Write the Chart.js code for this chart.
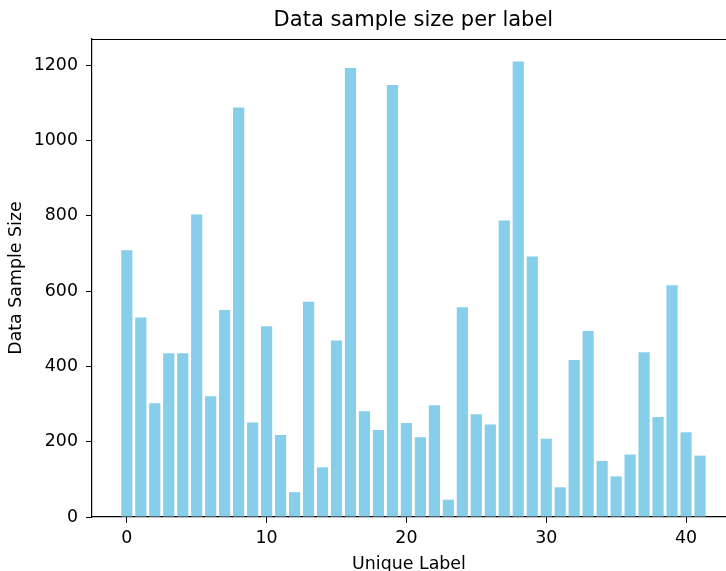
<!DOCTYPE html>
<html>
<head>
<meta charset="utf-8">
<script src="https://cdn.jsdelivr.net/npm/chart.js@4"></script>
<style>
  body { margin: 0; background: #fff; overflow: hidden; }
</style>
</head>
<body>
<canvas id="sample_chart" width="726" height="571"></canvas>
<script>
// Data

const labels = [0, 1, 2, 3, 4, 5, 6, 7, 8, 9, 10, 11, 12, 13, 14, 15, 16, 17, 18, 19, 20,
    21, 22, 23, 24, 25, 26, 27, 28, 29, 30, 31, 32, 33, 34, 35, 36, 37, 38, 39, 40, 41];
const sample_sizes = [709, 530, 302, 435, 435, 804, 321, 550, 1088, 251, 507, 218, 66, 572, 132,
    469, 1193, 281, 231, 1148, 250, 212, 297, 46, 557, 273, 246, 788, 1210, 692, 208,
    79, 417, 494, 149, 108, 166, 438, 266, 616, 225, 163];
const x_ticks = [0, 10, 20, 30, 40];
const y_ticks = [0, 200, 400, 600, 800, 1000, 1200];
const chart_title = 'Data sample size per label';

// Chart

const sample_chart_canvas = document.getElementById('sample_chart');
const font_family = "'DejaVu Sans', sans-serif";
const x_min = -2.49;
const x_max_full = 43.49; // the full axes run past the window edge

// top spine and title centred over the full axes, like matplotlib
const axes_box = {
    id: 'axes_box',
    afterDraw(chart) {
        const ctx = chart.ctx;
        const area = chart.chartArea;
        const right_full = chart.scales.x.getPixelForValue(x_max_full);
        ctx.save();
        ctx.strokeStyle = '#000';
        ctx.lineWidth = 1.2;
        ctx.beginPath();
        ctx.moveTo(area.left, area.top + 0.5);
        ctx.lineTo(area.right, area.top + 0.5);
        ctx.stroke();

        ctx.fillStyle = '#000';
        ctx.font = '21px ' + font_family;
        ctx.textAlign = 'center';
        ctx.textBaseline = 'middle';
        ctx.fillText(chart_title, (area.left + right_full) / 2, 21);
        ctx.restore();
    }
};

const sample_chart = new Chart(sample_chart_canvas, {
    type: 'bar',
    data: {
        datasets: [{
            data: labels.map((l, i) => ({ x: l, y: sample_sizes[i] })),
            backgroundColor: '#87CEEB',
            barPercentage: 0.8,
            categoryPercentage: 1.0
        }]
    },
    options: {
        responsive: false,
        animation: false,
        layout: { padding: { top: 39, left: 0, right: 0, bottom: 0 } },
        plugins: {
            legend: { display: false },
            tooltip: { enabled: false },
            title: { display: false }
        },
        scales: {
            x: {
                type: 'linear',
                min: x_min,
                max: 42.86,
                offset: false,
                afterBuildTicks: (scale) => { scale.ticks = x_ticks.map(v => ({ value: v })); },
                afterFit: (scale) => { scale.height = 54; },
                grid: {
                    offset: false,
                    drawOnChartArea: false,
                    drawTicks: true,
                    tickLength: 6,
                    color: '#000',
                    lineWidth: 1
                },
                border: { display: true, color: '#000', width: 1.2 },
                ticks: {
                    color: '#000',
                    padding: 5,
                    font: { family: font_family, size: 17.4 },
                    maxRotation: 0
                },
                title: {
                    display: true,
                    text: 'Unique Label',
                    color: '#000',
                    font: { family: font_family, size: 17.4 },
                    padding: { top: 0, bottom: -4 }
                }
            },
            y: {
                min: 0,
                max: 1270,
                afterBuildTicks: (scale) => { scale.ticks = y_ticks.map(v => ({ value: v })); },
                afterFit: (scale) => { scale.width = 92; },
                grid: {
                    drawOnChartArea: false,
                    drawTicks: true,
                    tickLength: 6,
                    color: '#000',
                    lineWidth: 1
                },
                border: { display: true, color: '#000', width: 1.2 },
                ticks: {
                    color: '#000',
                    padding: 8,
                    font: { family: font_family, size: 17.4 },
                    callback: (value) => String(value)
                },
                title: {
                    display: true,
                    text: 'Data Sample Size',
                    color: '#000',
                    font: { family: font_family, size: 17.4 },
                    padding: { top: 6.5, bottom: 0 }
                }
            }
        }
    },
    plugins: [axes_box]
});
</script>
</body>
</html>
